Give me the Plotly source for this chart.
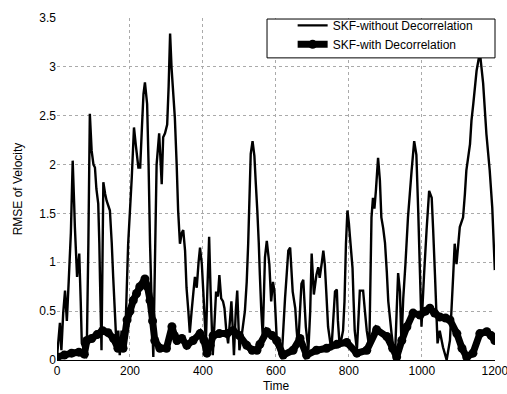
import plotly.graph_objects as go

# SKF-without Decorrelation
t_without = [0, 8, 12, 17, 22, 27, 32, 38, 43, 47, 49, 55, 61, 65, 68, 75, 82, 86, 90, 95,
             100, 104, 108, 113, 116, 118, 122, 127, 132, 136, 145, 150, 154, 163, 168, 172, 177, 182, 186, 195,
             205, 211, 216, 223, 228, 233, 237, 241, 247, 251, 255, 260, 264, 268, 273, 280, 287, 291, 296, 302,
             306, 310, 314, 323, 328, 332, 337, 342, 346, 351, 355, 360, 364, 369, 374, 378, 383, 388, 392, 397,
             401, 405, 408, 412, 417, 421, 427, 432, 436, 441, 445, 450, 455, 459, 464, 469, 474, 478, 482, 485,
             490, 494, 500, 508, 515, 520, 524, 531, 536, 541, 545, 549, 553, 556, 560, 564, 570, 575, 582, 587,
             592, 596, 602, 610, 617, 625, 630, 634, 639, 646, 653, 657, 661, 666, 670, 675, 682, 689, 694, 698,
             704, 711, 716, 720, 726, 730, 734, 738, 743, 752, 757, 762, 767, 770, 775, 784, 788, 792, 796, 800,
             803, 810, 813, 816, 822, 826, 830, 839, 844, 849, 856, 862, 866, 870, 874, 877, 880, 885, 889, 894,
             899, 904, 908, 917, 926, 931, 935, 940, 944, 949, 955, 962, 967, 972, 979, 985, 990, 995, 999, 1006,
             1013, 1020, 1027, 1031, 1036, 1043, 1049, 1058, 1068, 1077, 1086, 1090, 1095, 1104, 1113, 1118, 1122, 1132, 1136, 1141,
             1150, 1159, 1168, 1177, 1186, 1193, 1200]
v_without = [0.03, 0.38, 0.1, 0.48, 0.71, 0.4, 0.8, 1.3, 2.04, 1.6, 1.36, 0.85, 1.09, 0.6, 0.17, 0.1, 0.2, 1.2, 2.52, 2.14,
             2.0, 1.97, 1.75, 1.6, 1.2, 0.8, 0.1, 1.82, 1.7, 1.63, 1.53, 1.2, 0.85, 0.15, 0.3, 0.05, 0.3, 0.2, 0.1, 1.19,
             1.87, 2.38, 2.2, 1.97, 1.97, 2.4, 2.72, 2.84, 2.62, 2.0, 1.19, 0.5, 0.03, 0.9, 2.0, 2.32, 1.8, 2.28, 2.32, 2.41,
             2.8, 3.34, 2.99, 2.48, 2.0, 1.53, 1.19, 1.3, 1.33, 1.12, 0.74, 0.5, 0.28, 0.5, 0.7, 0.85, 0.74, 1.0, 1.15, 0.98,
             0.7, 0.4, 0.17, 0.7, 1.26, 0.7, 0.05, 0.4, 0.7, 0.65, 0.87, 0.63, 0.6, 0.53, 0.3, 0.17, 0.4, 0.6, 0.3, 0.05,
             0.5, 0.71, 0.1, 0.3, 0.5, 0.8, 1.19, 2.11, 2.24, 2.09, 1.8, 1.53, 1.2, 0.87, 0.5, 0.24, 1.05, 1.22, 0.98, 0.6,
             0.8, 0.7, 0.24, 0.05, 0.1, 0.63, 0.9, 1.12, 1.15, 0.7, 0.53, 0.3, 0.13, 0.5, 0.78, 0.82, 0.34, 0.1, 0.5, 1.09,
             0.67, 0.87, 0.95, 0.84, 1.0, 1.12, 0.98, 0.7, 0.34, 0.1, 0.4, 0.7, 0.72, 0.4, 0.13, 0.3, 0.6, 1.19, 1.53, 1.4,
             1.26, 0.94, 0.6, 0.3, 0.1, 0.4, 0.71, 0.71, 0.5, 0.3, 0.13, 1.46, 1.66, 1.55, 1.73, 1.9, 2.07, 1.84, 1.46, 1.35,
             1.2, 0.9, 0.6, 0.27, 0.0, 0.5, 0.89, 0.7, 0.17, 0.63, 0.98, 1.46, 1.7, 1.94, 2.24, 2.1, 1.53, 0.87, 0.34, 0.87,
             1.33, 1.73, 1.66, 1.33, 0.87, 0.17, 0.3, 0.13, 0.0, 0.2, 0.87, 1.19, 0.98, 1.36, 1.46, 1.7, 1.94, 2.21, 2.45, 2.62,
             2.96, 3.15, 2.83, 2.31, 1.94, 1.56, 0.92]

# SKF-with Decorrelation
t_with = [0, 20, 40, 60, 75, 82, 95, 110, 125, 140, 155, 167, 181, 192, 200, 209, 218, 227, 241, 248,
          255, 262, 268, 282, 300, 315, 322, 329, 342, 356, 373, 392, 403, 411, 420, 428, 445, 466, 482, 500,
          520, 535, 548, 556, 575, 590, 602, 620, 647, 666, 684, 711, 739, 767, 794, 822, 849, 876, 904, 920,
          931, 945, 959, 976, 995, 1010, 1022, 1035, 1049, 1065, 1077, 1096, 1110, 1123, 1140, 1159, 1178, 1190, 1200]
v_with = [0.03, 0.05, 0.07, 0.08, 0.06, 0.2, 0.22, 0.26, 0.3, 0.28, 0.22, 0.12, 0.12, 0.41, 0.5, 0.61, 0.68, 0.75, 0.83, 0.75,
          0.61, 0.4, 0.2, 0.12, 0.12, 0.34, 0.25, 0.2, 0.22, 0.15, 0.2, 0.27, 0.2, 0.07, 0.15, 0.25, 0.27, 0.27, 0.3, 0.25,
          0.15, 0.1, 0.1, 0.16, 0.29, 0.25, 0.2, 0.05, 0.1, 0.22, 0.05, 0.1, 0.12, 0.16, 0.18, 0.07, 0.1, 0.31, 0.24, 0.12,
          0.03, 0.2, 0.34, 0.48, 0.46, 0.5, 0.53, 0.48, 0.44, 0.43, 0.41, 0.27, 0.12, 0.03, 0.07, 0.27, 0.29, 0.25, 0.2]

x_ticks = [0, 200, 400, 600, 800, 1000, 1200]
y_ticks = [0, 0.5, 1, 1.5, 2, 2.5, 3, 3.5]
y_tick_text = ["0", "0.5", "1", "1.5", "2", "2.5", "3", "3.5"]

FONT = "Liberation Sans, Arial, sans-serif"

fig = go.Figure()
fig.add_trace(go.Scatter(
    x=t_without, y=v_without, mode="lines", name="SKF-without Decorrelation",
    line=dict(color="black", width=2.4, simplify=False),
))
fig.add_trace(go.Scatter(
    x=t_with, y=v_with, mode="lines+markers", name="SKF-with Decorrelation",
    line=dict(color="black", width=7, simplify=False),
    marker=dict(color="black", size=9, symbol="circle"),
))

# legend box (white, covers the data beneath)
fig.add_shape(type="rect", xref="paper", yref="paper",
              x0=0.4795, x1=1.0, y0=0.8834, y1=0.997,
              fillcolor="white", line=dict(color="black", width=1), layer="above")

fig.update_layout(
    width=507, height=394,
    margin=dict(l=57, r=12, t=17, b=34),
    paper_bgcolor="white", plot_bgcolor="white",
    font=dict(family=FONT, size=12, color="black"),
    showlegend=True,
    legend=dict(x=0.538, xanchor="left", y=1.018, yanchor="top",
                bgcolor="rgba(0,0,0,0)", borderwidth=0,
                font=dict(family=FONT, size=12, color="black"),
                itemwidth=30, tracegroupgap=0),
    xaxis=dict(range=[0, 1200.5], tickvals=x_ticks, showgrid=True, gridcolor="#aaa",
               griddash="dot", gridwidth=1, zeroline=False, showline=True,
               linecolor="black", linewidth=1, ticks="", ticklen=0,
               ticklabelstandoff=0, ticklabeloverflow="allow", automargin=False,
               title=dict(text="Time", font=dict(size=12), standoff=4)),
    yaxis=dict(range=[0, 3.5], tickvals=y_ticks, ticktext=y_tick_text, showgrid=True,
               gridcolor="#aaa", griddash="dot", gridwidth=1, zeroline=False,
               showline=False, ticks="", automargin=False,
               title=dict(text="RMSE of Velocity", font=dict(size=12), standoff=14)),
)

fig.write_html("out.html")
